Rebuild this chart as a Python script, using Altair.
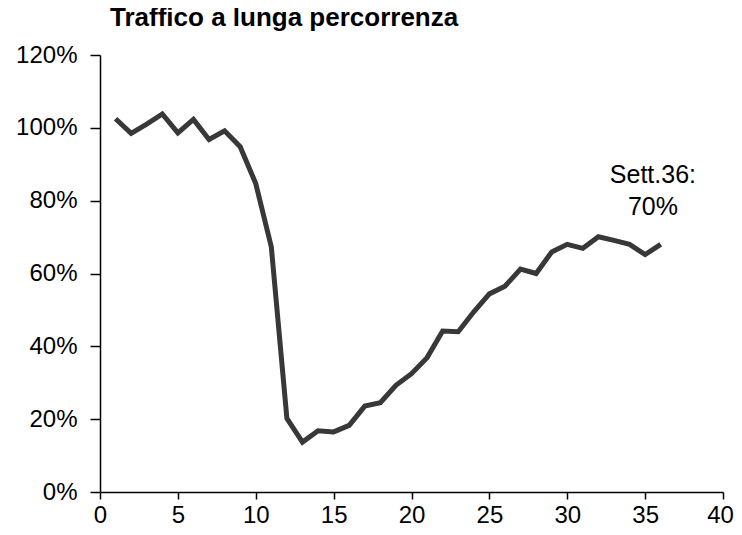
import altair as alt
import pandas as pd

weeks = list(range(1, 37))
traffic = [102.5, 98.5, 101.0, 103.8, 98.6, 102.3, 96.8, 99.2, 94.8, 84.7,
           67.3, 20.2, 13.7, 16.8, 16.5, 18.3, 23.6, 24.5, 29.3, 32.5,
           36.9, 44.2, 44.0, 49.5, 54.4, 56.5, 61.2, 60.0, 65.9, 68.0,
           66.9, 70.1, 69.1, 68.0, 65.2, 68.0]
x_ticks = [0, 5, 10, 15, 20, 25, 30, 35, 40]
y_ticks = [0, 20, 40, 60, 80, 100, 120]
title_text = "Traffico a lunga percorrenza"
note_lines = ["Sett.36:", "70%"]
note_x = [35.5, 35.5]
note_y = [87.0, 78.3]

FONT = "Liberation Sans"

df = pd.DataFrame({"week": weeks, "value": traffic})
notes = pd.DataFrame({"x": note_x, "y": note_y, "t": note_lines})

xs = alt.Scale(domain=[0, 40], nice=False, zero=False)
ys = alt.Scale(domain=[0, 120], nice=False)

line = alt.Chart(df).mark_line(color="#383838", strokeWidth=5, strokeJoin="miter", strokeCap="butt").encode(
    x=alt.X("week:Q", scale=xs, axis=alt.Axis(
        values=x_ticks, title=None, grid=False, domainColor="black", domainWidth=1.5,
        tickColor="black", tickWidth=1.5, tickSize=7, labelFontSize=24, labelFont=FONT,
        labelColor="black", labelPadding=4, labelFlush=False,
        labelOffset={"condition": {"test": "datum.value == 40", "value": -3}, "value": 0})),
    y=alt.Y("value:Q", scale=ys, axis=alt.Axis(
        values=y_ticks, title=None, grid=False, domainColor="black", domainWidth=1.5,
        tickColor="black", tickWidth=1.5, tickSize=10, labelFontSize=24, labelFont=FONT,
        labelColor="black", labelPadding=13, labelExpr="datum.value + '%'", labelFlush=False)),
)

text = alt.Chart(notes).mark_text(fontSize=25, font=FONT, color="black", align="center", baseline="middle").encode(
    x=alt.X("x:Q", scale=xs),
    y=alt.Y("y:Q", scale=ys),
    text="t:N",
)

chart = (line + text).properties(
    width=623,
    height=437,
    title=alt.TitleParams(title_text, anchor="start", frame="group", dx=10, fontSize=26, font=FONT,
                          fontWeight="bold", color="black", offset=12),
    autosize=alt.AutoSizeParams(type="none"),
    padding={"left": 92, "top": 47, "right": 11, "bottom": 35},
).configure_view(stroke=None)

chart.save("out.html", embed_options={"renderer": "svg", "actions": False})
